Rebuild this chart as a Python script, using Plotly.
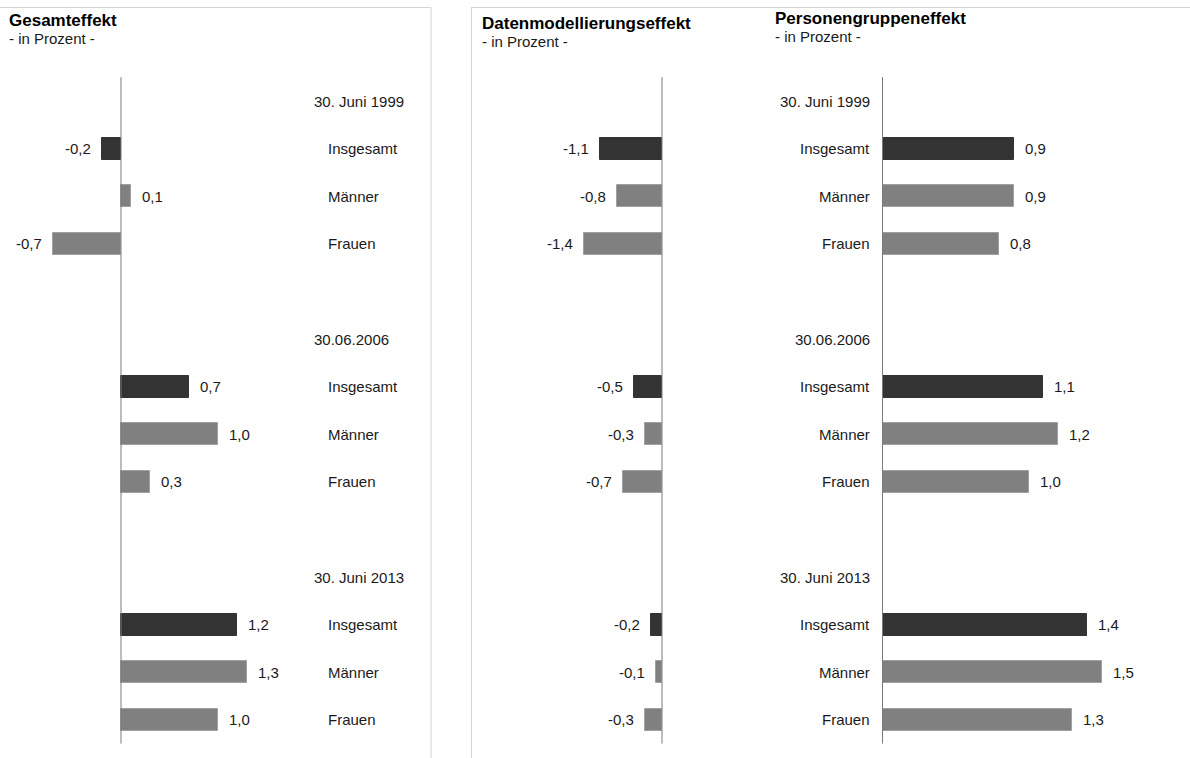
import plotly.graph_objects as go

# Row layout: each group has a date heading row followed by three category rows
dates = ["30. Juni 1999", "30.06.2006", "30. Juni 2013"]
categories = ["Insgesamt", "Männer", "Frauen"]

# Values in percent, ordered by date group, then category
gesamt = [-0.2, 0.1, -0.7, 0.7, 1.0, 0.3, 1.2, 1.3, 1.0]
datenmodell = [-1.1, -0.8, -1.4, -0.5, -0.3, -0.7, -0.2, -0.1, -0.3]
personen = [0.9, 0.9, 0.8, 1.1, 1.2, 1.0, 1.4, 1.5, 1.3]

W, H = 1190, 758
DARK = "#333333"
GREY = "#808080"
TXT = "#1a1a1a"
FONT = "Liberation Sans, Arial, sans-serif"
LBL = 15
TITLE = 17

# y positions (row index) for headings and bars
date_rows = [g * 5 for g in range(len(dates))]
bar_rows = [g * 5 + 1 + c for g in range(len(dates)) for c in range(len(categories))]
bar_cats = [categories[c] for g in range(len(dates)) for c in range(len(categories))]
bar_colors = [DARK if c == 0 else GREY for g in range(len(dates)) for c in range(len(categories))]
bar_lines = [DARK if c == 0 else "#a0a0a0" for g in range(len(dates)) for c in range(len(categories))]

# Panel geometry in pixels: (left, right, zero position, pixels per unit)
panels = [
    ("x", gesamt, 0, 430, 121, 97),
    ("x2", datenmodell, 471, 760, 662, 56),
    ("x3", personen, 760, 1190, 882.5, 146),
]

ROW0, ROWSTEP = 101, 47.6
y_top = -ROW0 / ROWSTEP
y_bot = (H - ROW0) / ROWSTEP

fig = go.Figure()
layout_axes = {}
annotations = []
shapes = []

for ax, vals, left, right, zero, scale in panels:
    fig.add_trace(go.Bar(
        x=vals, y=bar_rows, orientation="h", width=0.46,
        marker=dict(color=bar_colors, line=dict(color=bar_lines, width=1)),
        xaxis=ax, yaxis="y", showlegend=False, hoverinfo="x",
    ))
    name = "xaxis" if ax == "x" else "xaxis" + ax[1:]
    layout_axes[name] = dict(
        domain=[left / W, right / W],
        range=[-(zero - left) / scale, (right - zero) / scale],
        visible=False, fixedrange=True, anchor="y",
    )
    # zero line
    shapes.append(dict(type="line", xref=ax, yref="y", x0=0, x1=0,
                       y0=-0.5, y1=13.5, line=dict(color="#7a7a7a", width=1)))
    # value labels
    for v, r in zip(vals, bar_rows):
        label = f"{v:.1f}".replace(".", ",")
        annotations.append(dict(
            x=v, y=r, xref=ax, yref="y", text=label, showarrow=False,
            xanchor="left" if v >= 0 else "right",
            xshift=9 if v >= 0 else -9, yanchor="middle",
            font=dict(size=LBL, color=TXT, family=FONT),
        ))

# Row labels: left panel left-aligned, shared middle column right-aligned
for d, r in zip(dates, date_rows):
    annotations.append(dict(x=312 / W, y=r, xref="paper", yref="y", text=d,
                            showarrow=False, xanchor="left", yanchor="middle",
                            font=dict(size=LBL, color=TXT, family=FONT)))
    annotations.append(dict(x=872 / W, y=r, xref="paper", yref="y", text=d,
                            showarrow=False, xanchor="right", yanchor="middle",
                            font=dict(size=LBL, color=TXT, family=FONT)))
for c, r in zip(bar_cats, bar_rows):
    annotations.append(dict(x=326 / W, y=r, xref="paper", yref="y", text=c,
                            showarrow=False, xanchor="left", yanchor="middle",
                            font=dict(size=LBL, color=TXT, family=FONT)))
    annotations.append(dict(x=872 / W, y=r, xref="paper", yref="y", text=c,
                            showarrow=False, xanchor="right", yanchor="middle",
                            font=dict(size=LBL, color=TXT, family=FONT)))

# Panel titles
titles = [
    ("Gesamteffekt", 7, 20, 38),
    ("Datenmodellierungseffekt", 480, 23, 41),
    ("Personengruppeneffekt", 773, 19, 37),
]
for t, px, ty, sy in titles:
    annotations.append(dict(x=px / W, y=1 - ty / H, xref="paper", yref="paper",
                            text=f"<b>{t}</b>", showarrow=False, xanchor="left",
                            yanchor="middle", font=dict(size=TITLE, color="#000000", family=FONT)))
    annotations.append(dict(x=px / W, y=1 - sy / H, xref="paper", yref="paper",
                            text="- in Prozent -", showarrow=False, xanchor="left",
                            yanchor="middle", font=dict(size=LBL, color=TXT, family=FONT)))

# Panel frames
BORDER = dict(color="#d4d4d4", width=1)
for x0, x1 in [(0, 431), (471, W)]:
    shapes.append(dict(type="line", xref="paper", yref="paper",
                       x0=x0 / W, x1=x1 / W, y0=1 - 7.5 / H, y1=1 - 7.5 / H, line=BORDER))
shapes.append(dict(type="line", xref="paper", yref="paper",
                   x0=431 / W, x1=431 / W, y0=0, y1=1 - 7.5 / H, line=BORDER))
shapes.append(dict(type="line", xref="paper", yref="paper",
                   x0=471.5 / W, x1=471.5 / W, y0=0, y1=1 - 7.5 / H, line=BORDER))

fig.update_layout(
    width=W, height=H,
    margin=dict(l=0, r=0, t=0, b=0),
    paper_bgcolor="white", plot_bgcolor="rgba(0,0,0,0)",
    yaxis=dict(range=[y_bot, y_top], visible=False, fixedrange=True, domain=[0, 1]),
    annotations=annotations, shapes=shapes,
    bargap=0, barmode="overlay",
    font=dict(family=FONT),
    **layout_axes,
)

fig.write_html("out.html", config={"displayModeBar": False})
